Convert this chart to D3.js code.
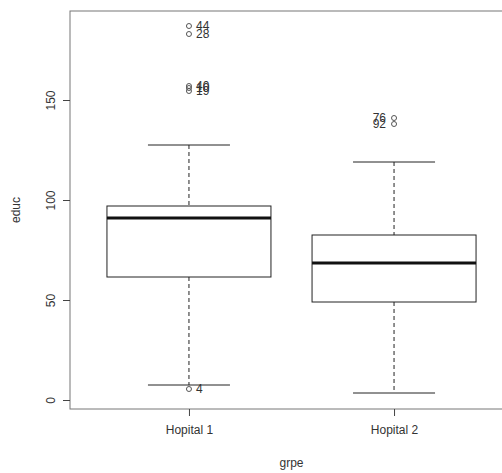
<!DOCTYPE html>
<html>
<head>
<meta charset="utf-8">
<script src="https://cdn.jsdelivr.net/npm/d3@7"></script>
<style>
body { margin: 0; background: #fff; overflow: hidden; }
text { font-family: "Liberation Sans", Arial, sans-serif; fill: #222; }
</style>
</head>
<body>
<svg id="chart"></svg>
<script>
var width = 502;
var height = 473;
var margin = {top: 11, bottom: 64, left: 70};

// data
var groups = ['Hopital 1', 'Hopital 2'];
var lowWhisker = [7.5, 3.5];
var q1 = [61.5, 49];
var median = [91, 68.5];
var q3 = [97, 82.5];
var highWhisker = [127.5, 119];
var outlierGroup = ['Hopital 1', 'Hopital 1', 'Hopital 1', 'Hopital 1', 'Hopital 1', 'Hopital 1', 'Hopital 2', 'Hopital 2'];
var outlierValue = [187, 183, 157, 156, 154.5, 5.5, 141, 138];
var outlierLabel = ['44', '28', '40', '10', '19', '4', '76', '92'];
var yTicks = [0, 50, 100, 150];

var svg = d3.select('#chart')
	.attr('width', width)
	.attr('height', height);

var g = svg.append('g')
	.attr('transform', 'translate(' + margin.left + ',' + margin.top + ')');

// the plot region runs a little past the right edge of the picture
var widthInner = 443;
var heightInner = height - margin.top - margin.bottom;

var x = d3.scalePoint()
	.domain(groups)
	.range([0, widthInner])
	.padding(0.58);

var y = d3.scaleLinear()
	.domain([-4.5, 194.5])
	.range([heightInner, 0]);

var boxWidth = 164;

// frame
g.append('rect')
	.attr('width', widthInner)
	.attr('height', heightInner)
	.attr('fill', 'none')
	.attr('stroke', '#777')
	.attr('stroke-width', 1);

// axes
var yAxis = d3.axisLeft(y).tickValues(yTicks).tickSize(7).tickPadding(8);
var gy = g.append('g').call(yAxis);
gy.select('.domain').remove();
gy.selectAll('line').attr('stroke', '#444');
gy.selectAll('text')
	.attr('transform', 'rotate(-90)')
	.attr('x', 0)
	.attr('y', -15)
	.attr('dy', 0)
	.style('text-anchor', 'middle')
	.style('font-size', '12px')
	.style('fill', '#333');

var xAxis = d3.axisBottom(x).tickSize(7).tickPadding(9);
var gx = g.append('g')
	.attr('transform', 'translate(0,' + heightInner + ')')
	.call(xAxis);
gx.select('.domain').remove();
gx.selectAll('line').attr('stroke', '#444');
gx.selectAll('text')
	.style('font-size', '12px')
	.style('fill', '#333');

svg.append('text')
	.attr('x', margin.left + (x(groups[0]) + x(groups[1])) / 2)
	.attr('y', 467)
	.style('text-anchor', 'middle')
	.style('font-size', '12px')
	.style('fill', '#333')
	.text('grpe');

svg.append('text')
	.attr('transform', 'translate(20,' + (margin.top + heightInner / 2) + ') rotate(-90)')
	.style('text-anchor', 'middle')
	.style('font-size', '12px')
	.style('fill', '#333')
	.text('educ');

// boxes
var boxes = g.selectAll('.box')
	.data(groups)
	.enter().append('g')
	.attr('class', 'box');

boxes.append('line')
	.attr('x1', function(d) { return x(d); })
	.attr('x2', function(d) { return x(d); })
	.attr('y1', function(d, i) { return y(highWhisker[i]); })
	.attr('y2', function(d, i) { return y(q3[i]); })
	.attr('stroke', '#222')
	.attr('stroke-dasharray', '4,3');

boxes.append('line')
	.attr('x1', function(d) { return x(d); })
	.attr('x2', function(d) { return x(d); })
	.attr('y1', function(d, i) { return y(q1[i]); })
	.attr('y2', function(d, i) { return y(lowWhisker[i]); })
	.attr('stroke', '#222')
	.attr('stroke-dasharray', '4,3');

boxes.append('line')
	.attr('x1', function(d) { return x(d) - boxWidth / 4; })
	.attr('x2', function(d) { return x(d) + boxWidth / 4; })
	.attr('y1', function(d, i) { return y(highWhisker[i]); })
	.attr('y2', function(d, i) { return y(highWhisker[i]); })
	.attr('stroke', '#222');

boxes.append('line')
	.attr('x1', function(d) { return x(d) - boxWidth / 4; })
	.attr('x2', function(d) { return x(d) + boxWidth / 4; })
	.attr('y1', function(d, i) { return y(lowWhisker[i]); })
	.attr('y2', function(d, i) { return y(lowWhisker[i]); })
	.attr('stroke', '#222');

boxes.append('rect')
	.attr('x', function(d) { return x(d) - boxWidth / 2; })
	.attr('y', function(d, i) { return y(q3[i]); })
	.attr('width', boxWidth)
	.attr('height', function(d, i) { return y(q1[i]) - y(q3[i]); })
	.attr('fill', 'none')
	.attr('stroke', '#222');

boxes.append('line')
	.attr('x1', function(d) { return x(d) - boxWidth / 2; })
	.attr('x2', function(d) { return x(d) + boxWidth / 2; })
	.attr('y1', function(d, i) { return y(median[i]); })
	.attr('y2', function(d, i) { return y(median[i]); })
	.attr('stroke', '#111')
	.attr('stroke-width', 3);

// outliers
var outliers = outlierValue.map(function(v, i) {
	return {group: outlierGroup[i], value: v, label: outlierLabel[i]};
});

g.selectAll('.outlier')
	.data(outliers)
	.enter().append('circle')
	.attr('class', 'outlier')
	.attr('cx', function(d) { return x(d.group); })
	.attr('cy', function(d) { return y(d.value); })
	.attr('r', 2.5)
	.attr('fill', 'none')
	.attr('stroke', '#555');

g.selectAll('.olabel')
	.data(outliers)
	.enter().append('text')
	.attr('class', 'olabel')
	.attr('x', function(d) { return d.group === groups[0] ? x(d.group) + 7 : x(d.group) - 8; })
	.attr('y', function(d) { return y(d.value); })
	.attr('dy', '0.35em')
	.style('text-anchor', function(d) { return d.group === groups[0] ? 'start' : 'end'; })
	.style('font-size', '12px')
	.style('fill', '#333')
	.text(function(d) { return d.label; });
</script>
</body>
</html>
